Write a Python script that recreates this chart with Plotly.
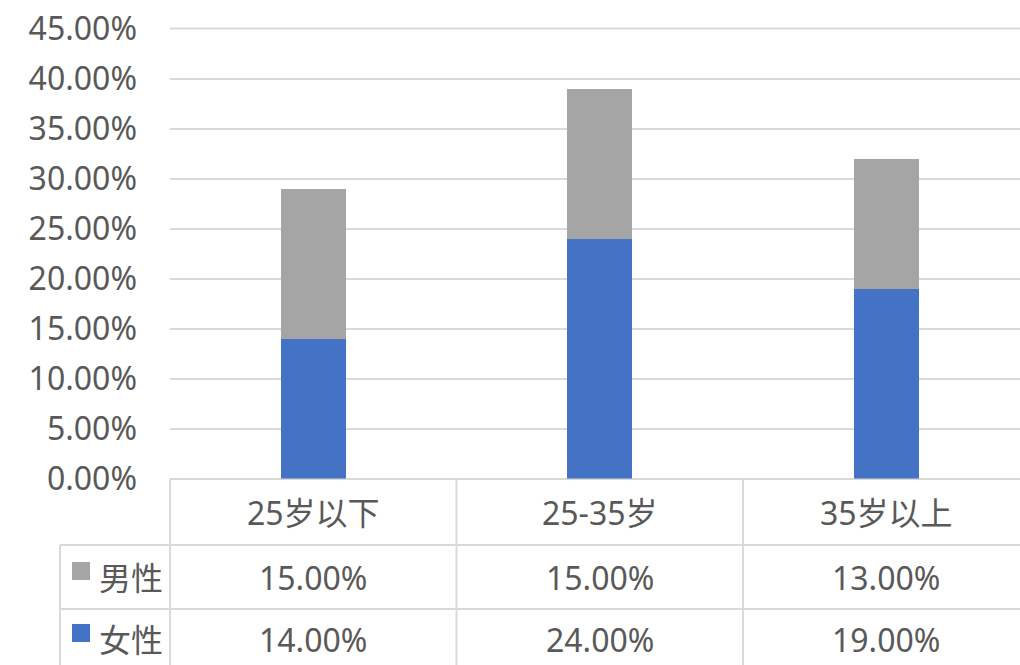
import plotly.graph_objects as go

# Age groups and share of respondents by gender
categories = ["25岁以下", "25-35岁", "35岁以上"]
female = [0.14, 0.24, 0.19]   # 女性
male = [0.15, 0.15, 0.13]     # 男性
y_ticks = [0.00, 0.05, 0.10, 0.15, 0.20, 0.25, 0.30, 0.35, 0.40, 0.45]

W, H = 1020, 665
FONT = "Noto Sans, Noto Sans CJK SC, sans-serif"
TXT = "#595959"
GRID = "#D9D9D9"
BLUE = "#4472C4"
GRAY = "#A5A5A5"
FS = 32

# Pixel layout of the plot area and the data table below it
x_left = 170          # left edge of the plot area
col_w = 286.5         # width of one category column
y_zero = 478.5        # pixel row of 0%
y_top = 28.5          # pixel row of 45%
row_head = (479, 545)
row_male = (545, 609)
row_female = (609, 665)
legend_left = 60

xs = list(range(len(categories)))
x_range = [-0.5, -0.5 + (W - x_left) / col_w]
bar_w = 65 / col_w

fig = go.Figure()
fig.add_bar(x=xs, y=female, name="女性", marker=dict(color=BLUE, line=dict(width=0)),
            width=bar_w)
fig.add_bar(x=xs, y=male, name="男性", marker=dict(color=GRAY, line=dict(width=0)),
            width=bar_w)


def px_x(px):
    return px / W


def px_y(py):
    return 1 - py / H


fig.update_layout(
    width=W, height=H,
    margin=dict(l=0, r=0, t=0, b=0, autoexpand=False),
    paper_bgcolor="white", plot_bgcolor="white",
    barmode="stack",
    showlegend=False,
    font=dict(family=FONT, color=TXT, size=FS),
    xaxis=dict(domain=[px_x(x_left), 1], range=x_range, showticklabels=False,
               showgrid=False, zeroline=False, fixedrange=True, automargin=False),
    yaxis=dict(domain=[px_y(y_zero), px_y(y_top)], range=[0, 0.45],
               tickvals=y_ticks, tickformat=".2%",
               showgrid=True, gridcolor=GRID, gridwidth=2,
               zeroline=False, ticklabelstandoff=32, automargin=False,
               tickfont=dict(size=FS, color=TXT, family=FONT)),
)

shapes = []


def hline(y, x0, x1=W):
    shapes.append(dict(type="line", xref="paper", yref="paper",
                       x0=px_x(x0), x1=px_x(x1), y0=px_y(y), y1=px_y(y),
                       line=dict(color=GRID, width=2), layer="below"))


def vline(x, y0, y1=H):
    shapes.append(dict(type="line", xref="paper", yref="paper",
                       x0=px_x(x), x1=px_x(x), y0=px_y(y0), y1=px_y(y1),
                       line=dict(color=GRID, width=2), layer="below"))


# Table grid (top edge doubles as the 45% line and the axis baseline)
hline(y_top, x_left)
hline(row_head[0], x_left)
hline(row_male[0], legend_left)
hline(row_female[0], legend_left)
vline(legend_left, row_male[0])
for i in range(len(categories)):
    vline(x_left + i * col_w, row_head[0])

annotations = []


def text(x, y, s):
    annotations.append(dict(x=px_x(x), y=px_y(y), xref="paper", yref="paper",
                            text=s, showarrow=False, xanchor="center", yanchor="middle",
                            font=dict(size=FS, color=TXT, family=FONT)))


for i, cat in enumerate(categories):
    cx = x_left + (i + 0.5) * col_w
    text(cx, sum(row_head) / 2, cat)
    text(cx, sum(row_male) / 2, f"{male[i]:.2%}")
    text(cx, sum(row_female) / 2 + 2, f"{female[i]:.2%}")

# Legend keys inside the table
for (r0, r1), label, color in [(row_male, "男性", GRAY), (row_female, "女性", BLUE)]:
    cy = (r0 + r1) / 2 + (2 if label == "女性" else 0)
    sq = cy - 6   # key square sits slightly above the label's middle
    shapes.append(dict(type="rect", xref="paper", yref="paper",
                       x0=px_x(72), x1=px_x(90), y0=px_y(sq + 9), y1=px_y(sq - 9),
                       fillcolor=color, line=dict(width=0)))
    annotations.append(dict(x=px_x(97), y=px_y(cy), xref="paper", yref="paper",
                            text=label, showarrow=False, xanchor="left", yanchor="middle",
                            font=dict(size=FS, color=TXT, family=FONT)))

fig.update_layout(shapes=shapes, annotations=annotations)
fig.write_html("out.html")
